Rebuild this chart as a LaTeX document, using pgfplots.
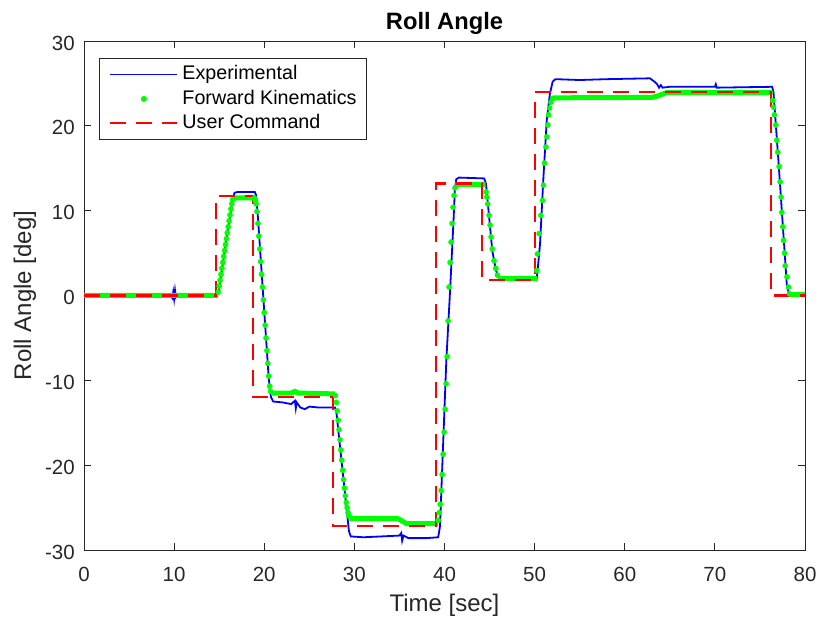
\documentclass[border=0pt]{standalone}
\usepackage{fontspec}
\setmainfont{Liberation Sans}
\usepackage{pgfplots}
\pgfplotsset{compat=1.18}
\definecolor{axgray}{rgb}{0.15,0.15,0.15}
\definecolor{pureR}{rgb}{1,0,0}
\definecolor{pureB}{rgb}{0,0,1}
\definecolor{pureG}{rgb}{0,1,0}
\pgfplotsset{
  linelegend/.style={legend image code/.code={\path (-3bp,0bp) (68bp,0bp); \draw[##1,draw=#1] (0bp,0bp) -- (67bp,0bp);}},
  dotlegend/.style={legend image code/.code={\path (-3bp,0bp) (68bp,0bp); \draw[##1,draw=#1,fill=#1] plot coordinates {(33.5bp,0bp)};}},
}
\begin{document}
\begin{tikzpicture}
\begin{axis}[
  name=ax,
  scale only axis,
  width=721bp, height=509bp,
  xmin=0, xmax=80, ymin=-30, ymax=30,
  xtick={0,10,...,80}, ytick={-30,-20,...,30},
  tick align=inside,
  major tick length=7bp,
  axis line style={axgray, line width=0.9bp},
  every tick/.style={axgray, line width=0.9bp},
  /pgf/number format/assume math mode=true,
  tick label style={font=\fontsize{20.5bp}{24bp}\selectfont, text=axgray},
  xticklabel style={anchor=base, yshift=-31.5bp},
  yticklabel style={anchor=east, inner sep=0pt, xshift=-9bp, yshift=-2bp},
  title={\textbf{Roll Angle}},
  title style={at={(0.5,1)}, anchor=base, yshift=6bp, font=\fontsize{23.7bp}{28bp}\selectfont, text=black},
  xlabel={Time [sec]},
  xlabel style={at={(axis description cs:0.5,0)}, anchor=base, yshift=-61.5bp, font=\fontsize{24bp}{28bp}\selectfont, text=axgray},
  ylabel={Roll Angle [deg]},
  ylabel style={at={(axis description cs:-0.0735,0.5)}, rotate=0, anchor=base, font=\fontsize{24bp}{28bp}\selectfont, text=axgray},
  unbounded coords=jump,
  legend cell align=left,
  legend style={at={(0.0208,0.967)}, anchor=north west, draw=axgray, line width=0.8bp,
    font=\fontsize{19.7bp}{23bp}\selectfont, text=black,
    inner xsep=7bp, inner ysep=4bp, row sep=0bp,
    nodes={text height=15bp, text depth=4.5bp, inner ysep=2.5bp, inner xsep=3bp}},
  clip=true,
]
% Experimental
\addplot[draw=pureB, line width=1.8bp, linelegend=pureB]
coordinates {
(0,0)(2,0.05)(4,-0.05)(6,0.05)(8,0)(9.6,0.05)(9.8,-0.3)(9.9,0.4)(10.0,-0.4)(10.1,0.6)(10.2,-0.2)(10.4,0.1)(12,0)(14.8,0.05)
(14.95,0.6)(16.5,11.4)(16.7,12.1)(17,12.2)(18.95,12.2)(19.1,11.8)(19.3,9.2)(20.5,-9.8)(20.75,-12.0)(21.0,-12.5)(22.0,-12.6)
(23.0,-12.8)(23.4,-12.4)(23.5,-13.3)(23.6,-12.6)(24.0,-13.2)(24.5,-13.4)(25.0,-13.1)(26.0,-13.2)(27.85,-13.2)(28.0,-13.7)
(29.4,-27.8)(29.6,-28.4)(31,-28.5)(33,-28.4)(35.0,-28.3)(35.2,-28.0)(35.3,-28.9)(35.45,-28.3)(36,-28.6)(38,-28.6)(39.3,-28.5)
(39.5,-27.2)(40.2,-7.7)(40.6,0.2)(41.0,8.8)(41.15,12.5)(41.3,13.7)(41.6,13.9)(44.4,13.8)(44.6,13.2)(45.3,5.3)(45.7,3.0)
(46.1,1.9)(50.2,1.9)(50.3,2.6)(50.6,6.1)(50.98,14.0)(51.35,20.7)(51.7,23.8)(52.0,25.2)(52.3,25.5)(55,25.4)(58,25.5)
(62.8,25.6)(63.3,25.2)(63.6,24.9)(63.8,24.5)(64.0,24.8)(64.2,24.5)(65,24.6)(70,24.6)(70.1,24.9)(70.2,24.5)(76.35,24.6)
(76.5,24.0)(77.05,15.9)(78.0,1.0)(78.3,0.1)(80,0.0)
};
\addlegendentry{Experimental}
% Forward Kinematics: dense sample flats
\addplot[draw=pureG, line width=5bp, forget plot] coordinates {
(0,0)(14.85,0)(14.85,nan)
(16.55,11.5)(18.9,11.5)(18.9,nan)
(20.75,-11.5)(23,-11.5)(23.4,-11.3)(23.8,-11.5)(27.85,-11.6)(27.85,nan)
(29.45,-26.3)(34.8,-26.3)(35.0,-26.4)(35.8,-26.9)(39.3,-26.9)(39.3,nan)
(41.2,13.1)(44.55,13.1)(44.55,nan)
(45.95,2.0)(50.25,2.0)(50.25,nan)
(52.0,23.3)(63.0,23.35)(63.6,23.5)(64.6,23.9)(76.4,23.9)(76.4,nan)
(78.3,0.1)(80,0.1)
};
% Forward Kinematics: samples on transitions
\addplot[color=pureG, only marks, mark=*, mark size=2.6bp, mark options={draw=pureG, fill=pureG}, dotlegend=pureG]
coordinates {
(14.9,0.4)(15.0,1.1)(15.1,1.8)(15.2,2.5)(15.3,3.2)(15.4,3.9)(15.5,4.6)(15.6,5.3)(15.7,6.0)(15.8,6.7)(15.9,7.4)(16.0,8.1)(16.1,8.8)(16.2,9.5)(16.3,10.2)(16.4,10.8)(16.5,11.3)
(18.9,11.5)(19.0,11.2)(19.1,10.8)(19.2,9.9)(19.3,8.5)(19.4,7.0)(19.5,5.5)(19.6,4.0)(19.7,2.5)(19.8,1.0)(19.9,-0.5)(20.0,-2.0)(20.1,-3.5)(20.2,-5.0)(20.3,-6.5)(20.4,-8.0)(20.5,-9.5)(20.6,-10.7)(20.7,-11.3)
(27.9,-11.8)(28.0,-12.6)(28.1,-13.6)(28.2,-14.7)(28.3,-15.8)(28.4,-17.0)(28.5,-18.2)(28.6,-19.4)(28.7,-20.6)(28.8,-21.7)(28.9,-22.7)(29.0,-23.6)(29.1,-24.4)(29.2,-25.0)(29.3,-25.6)(29.4,-26.0)
(39.30,-26.5)(39.41,-25.6)(39.52,-24.6)(39.63,-23.0)(39.74,-21.1)(39.85,-18.7)(39.96,-16.1)(40.07,-13.4)(40.18,-10.4)(40.29,-7.2)(40.40,-3.0)(40.51,1.0)(40.62,3.9)(40.73,6.3)(40.84,8.5)(40.95,10.4)(41.06,11.8)(41.17,12.7)
(44.62,12.2)(44.7,11.6)(44.8,10.8)(44.95,9.45)(45.06,8.3)(45.17,6.9)(45.3,5.5)(45.5,4.1)(45.69,3.2)(45.87,2.4)
(50.24,2.95)(50.31,4.9)(50.5,7.3)(50.69,9.45)(50.87,11.2)(50.98,13.0)(51.1,15.6)(51.25,17.5)(51.36,18.7)(51.47,20.1)(51.55,21.3)(51.66,22.1)(51.81,22.8)(51.99,23.2)
(76.42,23.0)(76.5,22.2)(76.6,21.3)(76.76,20.1)(76.87,18.3)(76.98,16.9)(77.13,15.2)(77.24,13.4)(77.35,11.6)(77.43,9.8)(77.54,8.1)(77.62,6.5)(77.73,5.0)(77.8,3.5)(78.0,2.2)(78.17,1.0)(78.28,0.2)
};
\addlegendentry{Forward Kinematics}
% User Command
\addplot[draw=pureR, line width=2.1bp, dash pattern=on 16bp off 10bp, linelegend=pureR]
coordinates {
(0,0)(14.6,0)(14.6,11.7)(18.8,11.7)(18.8,-12.0)(27.65,-12.0)(27.65,-27.2)(39.1,-27.2)(39.1,13.2)(44.2,13.2)(44.2,1.8)
(50.0,1.8)(50.0,23.95)(76.25,23.95)(76.25,0)(80,0)
};
\addlegendentry{User Command}
\end{axis}
\pgfresetboundingbox
\path[use as bounding box] ([xshift=-84bp,yshift=-72bp]ax.south west) rectangle ([xshift=16bp,yshift=41bp]ax.north east);
\end{tikzpicture}
\end{document}
